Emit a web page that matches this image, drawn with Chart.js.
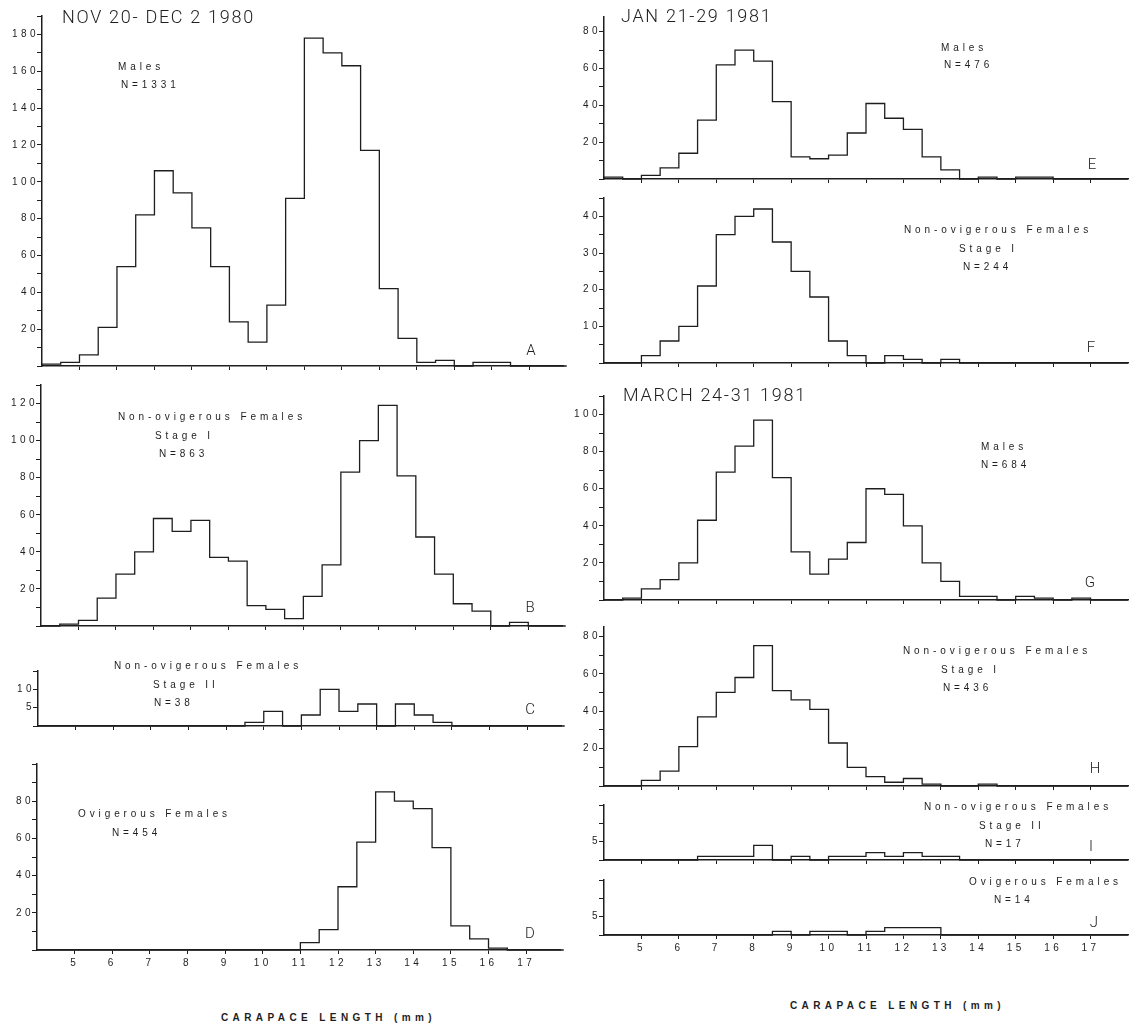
<!DOCTYPE html>
<html><head><meta charset="utf-8"><title>Carapace length frequencies</title>
<script src="https://cdn.jsdelivr.net/npm/chart.js@4.4.1/dist/chart.umd.min.js"></script>
<style>
html,body{margin:0;padding:0;background:#fff;}
body{width:1137px;height:1028px;position:relative;overflow:hidden;font-family:"Liberation Sans",Arial,sans-serif;color:#1e1e1e;}
.panel{position:absolute;}
.panel canvas{display:block;}
.txt{position:absolute;white-space:nowrap;font-size:10px;letter-spacing:3.9px;line-height:1;transform:translateY(-50%);}
.title{position:absolute;white-space:nowrap;font-family:Roboto,"Liberation Sans",sans-serif;font-weight:300;font-size:18px;letter-spacing:1.7px;line-height:1;transform:translateY(-50%);}
.letter{position:absolute;font-family:Roboto,"Liberation Sans",sans-serif;font-weight:300;font-size:15px;line-height:1;transform:translate(-50%,-50%);}
.axtitle{position:absolute;white-space:nowrap;font-size:10px;font-weight:bold;letter-spacing:4.4px;line-height:1;transform:translateY(-50%);}
</style></head>
<body>
<script>
// ---------- data ----------
// lower edges of the 0.5 mm carapace-length classes
const binEdges = [4,4.5,5,5.5,6,6.5,7,7.5,8,8.5,9,9.5,10,10.5,11,11.5,12,12.5,13,13.5,14,14.5,15,15.5,16,16.5,17,17.5];
const binWidth = 0.5;
const xTickValues = [5,6,7,8,9,10,11,12,13,14,15,16,17];

// NOV 20 - DEC 2 1980
const countsA = [1,2,6,21,54,82,106,94,75,54,24,13,33,91,178,170,163,117,42,15,2,3,0,2,2,0,0,0];   // Males N=1331
const countsB = [0,1,3,15,28,40,58,51,57,37,35,11,9,4,16,33,83,100,119,81,48,28,12,8,0,2,0,0];     // Non-ovig. females stage I N=863
const countsC = [0,0,0,0,0,0,0,0,0,0,0,1,4,0,3,10,4,6,0,6,3,1,0,0,0,0,0,0];                          // Non-ovig. females stage II N=38
const countsD = [0,0,0,0,0,0,0,0,0,0,0,0,0,0,4,11,34,58,85,80,76,55,13,6,1,0,0,0];                   // Ovigerous females N=454
// JAN 21-29 1981
const countsE = [1,0,2,6,14,32,62,70,64,42,12,11,13,25,41,33,27,12,5,0,1,0,1,1,0,0,0,0];             // Males N=476
const countsF = [0,0,2,6,10,21,35,40,42,33,25,18,6,2,0,2,1,0,1,0,0,0,0,0,0,0,0,0];                   // Non-ovig. females stage I N=244
// MARCH 24-31 1981
const countsG = [0,1,6,11,20,43,69,83,97,66,26,14,22,31,60,57,40,20,10,2,2,0,2,1,0,1,0,0];           // Males N=684
const countsH = [0,0,3,8,21,37,50,58,75,51,46,41,23,10,5,2,4,1,0,0,1,0,0,0,0,0,0,0];                 // Non-ovig. females stage I N=436
const countsI = [0,0,0,0,0,1,1,1,4,0,1,0,1,1,2,1,2,1,1,0,0,0,0,0,0,0,0,0];                           // Non-ovig. females stage II N=17
const countsJ = [0,0,0,0,0,0,0,0,0,1,0,1,1,0,1,2,2,2,0,0,0,0,0,0,0,0,0,0];                           // Ovigerous females N=14

// labelled y ticks per panel
const yLabelsA = [20,40,60,80,100,120,140,160,180];
const yLabelsB = [20,40,60,80,100,120];
const yLabelsC = [5,10];
const yLabelsD = [20,40,60,80];
const yLabelsE = [20,40,60,80];
const yLabelsF = [10,20,30,40];
const yLabelsG = [20,40,60,80,100];
const yLabelsH = [20,40,60,80];
const yLabelsI = [5];
const yLabelsJ = [5];

// ---------- layout ----------
const INK = '#1e1e1e';
const panels = [
  {counts:countsA, yLabels:yLabelsA, yMax:190, yStep:10, L:42, ppm:37.45, xMax:17.9, base:366, ppu:1.84,  xLabels:false},
  {counts:countsB, yLabels:yLabelsB, yMax:130, yStep:10, L:41, ppm:37.45, xMax:17.9, base:626, ppu:1.857, xLabels:false},
  {counts:countsC, yLabels:yLabelsC, yMax:15,  yStep:5,  L:38, ppm:37.6,  xMax:17.9, base:726, ppu:3.67,  xLabels:false},
  {counts:countsD, yLabels:yLabelsD, yMax:100, yStep:10, L:37, ppm:37.65, xMax:17.9, base:950, ppu:1.856, xLabels:true},
  {counts:countsE, yLabels:yLabelsE, yMax:88,  yStep:10, L:604, ppm:37.42, xMax:18, base:179, ppu:1.84,  xLabels:false},
  {counts:countsF, yLabels:yLabelsF, yMax:45,  yStep:5,  L:604, ppm:37.42, xMax:18, base:363, ppu:3.667, xLabels:false},
  {counts:countsG, yLabels:yLabelsG, yMax:110, yStep:10, L:604, ppm:37.42, xMax:18, base:600, ppu:1.858, xLabels:false},
  {counts:countsH, yLabels:yLabelsH, yMax:85,  yStep:10, L:604, ppm:37.42, xMax:18, base:786, ppu:1.867, xLabels:false},
  {counts:countsI, yLabels:yLabelsI, yMax:15,  yStep:5,  L:604, ppm:37.42, xMax:18, base:860, ppu:3.67,  xLabels:false},
  {counts:countsJ, yLabels:yLabelsJ, yMax:15,  yStep:5,  L:604, ppm:37.42, xMax:18, base:935, ppu:3.67,  xLabels:true}
];

const texts = [
  {t:'NOV 20- DEC 2 1980', x:62, y:17, c:'title'},
  {t:'JAN 21-29 1981', x:621, y:16, c:'title'},
  {t:'MARCH 24-31 1981', x:623, y:395, c:'title'},
  {t:'Males', x:118, y:67}, {t:'N=1331', x:121, y:85},
  {t:'Non-ovigerous Females', x:118, y:417}, {t:'Stage I', x:155, y:436}, {t:'N=863', x:159, y:454},
  {t:'Non-ovigerous Females', x:114, y:666}, {t:'Stage II', x:153, y:685}, {t:'N=38', x:154, y:703},
  {t:'Ovigerous Females', x:78, y:814}, {t:'N=454', x:112, y:833},
  {t:'Males', x:941, y:48}, {t:'N=476', x:944, y:65},
  {t:'Non-ovigerous Females', x:904, y:230}, {t:'Stage I', x:959, y:249}, {t:'N=244', x:963, y:267},
  {t:'Males', x:981, y:447}, {t:'N=684', x:981, y:465},
  {t:'Non-ovigerous Females', x:903, y:651}, {t:'Stage I', x:941, y:670}, {t:'N=436', x:943, y:688},
  {t:'Non-ovigerous Females', x:924, y:807}, {t:'Stage II', x:979, y:826}, {t:'N=17', x:985, y:844},
  {t:'Ovigerous Females', x:969, y:882}, {t:'N=14', x:994, y:900},
  {t:'A', x:531, y:350, c:'letter'}, {t:'B', x:530, y:607, c:'letter'}, {t:'C', x:530, y:709, c:'letter'},
  {t:'D', x:530, y:933, c:'letter'}, {t:'E', x:1092, y:164, c:'letter'}, {t:'F', x:1091, y:347, c:'letter'},
  {t:'G', x:1090, y:582, c:'letter'}, {t:'H', x:1095, y:768, c:'letter'}, {t:'I', x:1091, y:846, c:'letter'},
  {t:'J', x:1094, y:922, c:'letter'},
  {t:'CARAPACE LENGTH (mm)', x:221, y:1018, c:'axtitle'},
  {t:'CARAPACE LENGTH (mm)', x:790, y:1006, c:'axtitle'}
];

const spacingPlugin = {id:'spacing', beforeDraw(chart){ chart.ctx.letterSpacing = '3.4px'; }};

function makePanel(p){
  const W_Y = 46, PAD_T = 8, PAD_R = 6, H_X = p.xLabels ? 26 : 8;
  const B = p.base, T = Math.round(B - p.yMax*p.ppu), L = p.L;
  const R = Math.round(L + (p.xMax - binEdges[0]) * p.ppm);
  const div = document.createElement('div');
  div.className = 'panel';
  const w = R - L + W_Y + PAD_R, h = B - T + PAD_T + H_X;
  div.style.left = (L - W_Y) + 'px';
  div.style.top = (T - PAD_T) + 'px';
  div.style.width = w + 'px';
  div.style.height = h + 'px';
  const cv = document.createElement('canvas');
  cv.width = w; cv.height = h; cv.style.width = w + 'px'; cv.style.height = h + 'px';
  div.appendChild(cv);
  document.body.appendChild(div);

  // step outline of the histogram
  const pts = [{x: binEdges[0], y: 0}];
  binEdges.forEach((e, i) => pts.push({x: e, y: p.counts[i]}));
  pts.push({x: binEdges[binEdges.length-1] + binWidth, y: 0});

  const tickFont = {family:'"Liberation Sans", Arial, sans-serif', size:10};
  new Chart(cv, {
    type: 'line',
    data: {datasets: [{data: pts, stepped: true, borderColor: INK, borderWidth: 1.3,
      pointRadius: 0, fill: false, clip: false, tension: 0}]},
    options: {
      responsive: false, animation: false, events: [],
      layout: {padding: {top: PAD_T, right: PAD_R, left: 0, bottom: 0}},
      plugins: {legend: {display: false}, tooltip: {enabled: false}},
      scales: {
        x: {
          type: 'linear', min: binEdges[0], max: p.xMax,
          afterBuildTicks: s => { s.ticks = xTickValues.map(v => ({value: v})); },
          afterFit: s => { s.height = H_X; },
          grid: {display: true, drawOnChartArea: false, drawTicks: true, tickLength: 4, color: INK, lineWidth: 1},
          border: {display: true, color: INK, width: 1.5},
          ticks: {display: p.xLabels, autoSkip: false, maxRotation: 0, padding: 3, color: INK, font: tickFont,
                  callback: v => String(v)}
        },
        y: {
          type: 'linear', min: 0, max: p.yMax,
          afterBuildTicks: s => {
            const t = [];
            for (let v = 0; v <= p.yMax; v += p.yStep) t.push({value: v});
            s.ticks = t;
          },
          afterFit: s => { s.width = W_Y; },
          grid: {display: true, drawOnChartArea: false, drawTicks: true, tickLength: 5, color: INK, lineWidth: 1},
          border: {display: true, color: INK, width: 1.5},
          ticks: {autoSkip: false, padding: -2, color: INK, font: tickFont,
                  callback: v => p.yLabels.includes(v) ? String(v) : ''}
        }
      }
    },
    plugins: [spacingPlugin]
  });
}

panels.forEach(makePanel);

texts.forEach(o => {
  const d = document.createElement('div');
  d.className = o.c || 'txt';
  d.textContent = o.t;
  d.style.left = o.x + 'px';
  d.style.top = o.y + 'px';
  document.body.appendChild(d);
});
</script>
</body></html>
